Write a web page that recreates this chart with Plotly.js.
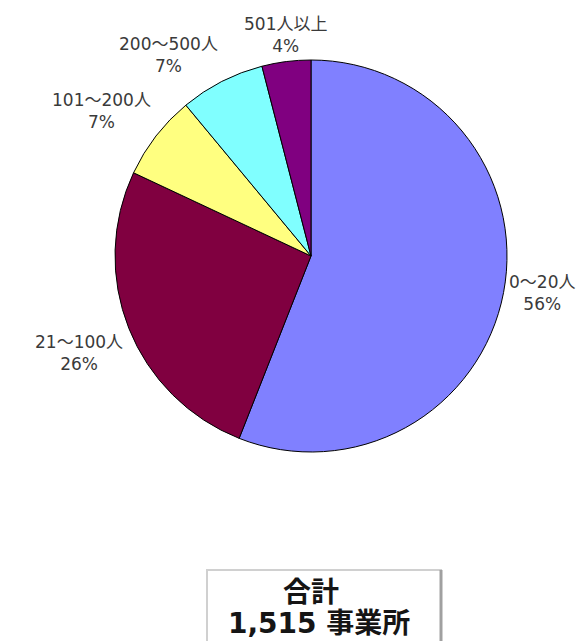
<!DOCTYPE html>
<html>
<head>
<meta charset="utf-8">
<script src="https://cdn.plot.ly/plotly-3.0.1.min.js"></script>
<style>html,body{margin:0;padding:0;background:#fff;}#chart{width:587px;height:641px;}</style>
</head>
<body>
<div id="chart"></div>
<script>
const categories = ["0～20人", "21～100人", "101～200人", "200～500人", "501人以上"];
const counts = [848, 394, 106, 106, 61];
const sliceColors = ["#8080FF", "#800040", "#FFFF80", "#80FFFF", "#800080"];
const totalLabel = "合計";
const unitLabel = "事業所";

const W = 587, H = 641;
// pie placement (pixels)
const cx = 311, cy = 256, rad = 196;
const total = counts.reduce((a, b) => a + b, 0);

const labelFont = { family: "DejaVu Sans, Noto Sans CJK JP, sans-serif", size: 17, color: "#3a3a3a" };

const data = [{
  type: "pie",
  labels: categories,
  values: counts,
  sort: false,
  direction: "clockwise",
  rotation: 0,
  marker: { colors: sliceColors, line: { color: "#000000", width: 1 } },
  textinfo: "none",
  textposition: "none",
  hoverinfo: "none",
  domain: { x: [(cx - rad) / W, (cx + rad) / W], y: [1 - (cy + rad) / H, 1 - (cy - rad) / H] }
}];

// outside labels placed at each slice's middle angle
const annotations = [];
let cum = 0;
const labelR = rad + 4;
counts.forEach((v, i) => {
  const mid = (cum + v / 2) / total;
  cum += v;
  const th = mid * 2 * Math.PI;
  const s = Math.sin(th), c = Math.cos(th);
  const px = cx + labelR * s, py = cy - labelR * c;
  const pct = Math.round(v / total * 100) + "%";
  annotations.push({
    xref: "paper", yref: "paper", x: px / W, y: 1 - py / H,
    xanchor: s > 0.3 ? "left" : (s < -0.3 ? "right" : "center"),
    yanchor: c > 0.3 ? "bottom" : (c < -0.3 ? "top" : "middle"),
    showarrow: false, align: "center",
    text: categories[i] + "<br>" + pct,
    font: labelFont
  });
});

const boxFont = { family: "DejaVu Sans, Noto Sans CJK JP, sans-serif", size: 28, color: "#151515", weight: "bold" };
annotations.push({
  xref: "paper", yref: "paper", x: 311 / W, y: 1 - 592 / H,
  xanchor: "center", yanchor: "middle", showarrow: false,
  text: totalLabel, font: boxFont
});
annotations.push({
  xref: "paper", yref: "paper", x: 319 / W, y: 1 - 623 / H,
  xanchor: "center", yanchor: "middle", showarrow: false,
  text: total.toLocaleString("en-US") + " " + unitLabel, font: boxFont
});

const layout = {
  width: W,
  height: H,
  margin: { l: 0, r: 0, t: 0, b: 0 },
  paper_bgcolor: "#ffffff",
  showlegend: false,
  shapes: [
    { type: "rect", xref: "paper", yref: "paper", x0: 207 / W, x1: 441 / W, y0: -0.01, y1: 1 - 570 / H,
      line: { color: "#d0d0d0", width: 2 }, fillcolor: "#ffffff", layer: "below" },
    { type: "line", xref: "paper", yref: "paper", x0: 441 / W, x1: 441 / W, y0: -0.01, y1: 1 - 570 / H,
      line: { color: "#a0a0a0", width: 3 } }
  ],
  annotations: annotations
};

Plotly.newPlot("chart", data, layout, { staticPlot: true });
</script>
</body>
</html>
